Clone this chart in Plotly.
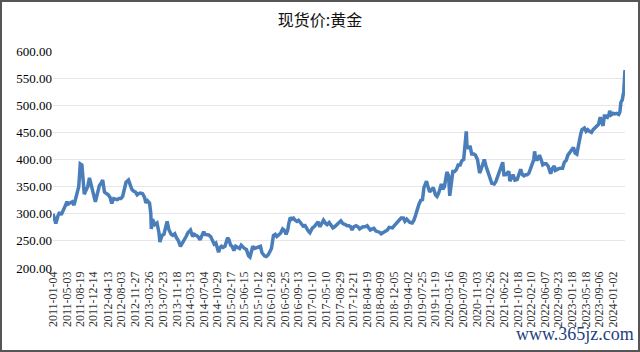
import plotly.graph_objects as go

# ---- data ----
dates = [
    "2011-01-04","2011-01-14","2011-01-28","2011-02-15","2011-03-01","2011-03-15","2011-04-01","2011-04-15",
    "2011-05-03","2011-05-13","2011-06-01","2011-06-15","2011-07-01","2011-07-15","2011-08-01","2011-08-10",
    "2011-08-19","2011-08-23","2011-09-06","2011-09-15","2011-09-26","2011-10-10","2011-10-25","2011-11-09",
    "2011-11-25","2011-12-14","2011-12-29",
    "2012-01-05","2012-01-16","2012-02-01","2012-02-15","2012-02-29","2012-03-15","2012-04-02","2012-04-16",
    "2012-05-02","2012-05-16","2012-06-01","2012-06-15","2012-07-02","2012-07-16","2012-08-01","2012-08-16",
    "2012-09-03","2012-09-14","2012-10-05","2012-10-19","2012-11-02","2012-11-16","2012-12-03","2012-12-17",
    "2012-12-28",
    "2013-01-15","2013-02-01","2013-02-18","2013-03-01","2013-03-15","2013-04-01","2013-04-12","2013-04-16",
    "2013-04-26","2013-05-15","2013-06-03","2013-06-20","2013-06-28","2013-07-15","2013-08-01","2013-08-15",
    "2013-08-28","2013-09-13","2013-10-01","2013-10-15","2013-11-01","2013-11-15","2013-12-02","2013-12-19",
    "2013-12-31",
    "2014-01-15","2014-02-05","2014-02-20","2014-03-03","2014-03-14","2014-04-01","2014-04-15","2014-05-02",
    "2014-05-16","2014-06-03","2014-06-20","2014-07-04","2014-07-15","2014-08-01","2014-08-15","2014-09-01",
    "2014-09-15","2014-10-01","2014-10-15","2014-11-03","2014-11-07","2014-11-20","2014-12-01","2014-12-15",
    "2014-12-31",
    "2015-01-15","2015-01-22","2015-02-03","2015-02-17","2015-03-02","2015-03-17","2015-04-01","2015-04-15",
    "2015-05-04","2015-05-18","2015-06-01","2015-06-15","2015-07-01","2015-07-20","2015-07-31","2015-08-14",
    "2015-08-24","2015-09-08","2015-09-22","2015-10-14","2015-10-28","2015-11-10","2015-11-25","2015-12-03",
    "2015-12-17","2015-12-31",
    "2016-01-15","2016-01-29","2016-02-15","2016-03-01","2016-03-15","2016-04-01","2016-04-15","2016-05-03",
    "2016-05-16","2016-06-01","2016-06-15","2016-06-24","2016-07-06","2016-07-20","2016-08-03","2016-08-17",
    "2016-09-01","2016-09-15","2016-10-10","2016-10-25","2016-11-09","2016-11-24","2016-12-07","2016-12-20",
    "2017-01-10","2017-01-25","2017-02-10","2017-02-27","2017-03-15","2017-03-31","2017-04-14","2017-05-02",
    "2017-05-15","2017-06-01","2017-06-15","2017-07-03","2017-07-17","2017-08-01","2017-08-15","2017-08-29",
    "2017-09-08","2017-09-25","2017-10-16","2017-10-30","2017-11-15","2017-11-30","2017-12-12","2017-12-27",
    "2018-01-15","2018-01-31","2018-02-14","2018-03-01","2018-03-15","2018-04-02","2018-04-19","2018-05-02",
    "2018-05-16","2018-06-01","2018-06-15","2018-07-02","2018-07-17","2018-08-01","2018-08-16","2018-09-03",
    "2018-09-14","2018-10-08","2018-10-22","2018-11-05","2018-11-20","2018-12-05","2018-12-19",
    "2019-01-04","2019-01-18","2019-02-01","2019-02-20","2019-03-05","2019-03-20","2019-04-02","2019-04-16",
    "2019-05-06","2019-05-20","2019-06-03","2019-06-21","2019-07-03","2019-07-18","2019-08-01","2019-08-13",
    "2019-08-27","2019-09-04","2019-09-16","2019-10-01","2019-10-15","2019-11-01","2019-11-19","2019-12-02",
    "2019-12-16","2019-12-31",
    "2020-01-08","2020-01-20","2020-02-03","2020-02-24","2020-03-09","2020-03-19","2020-03-31","2020-04-14",
    "2020-04-30","2020-05-15","2020-05-29","2020-06-15","2020-06-30","2020-07-15","2020-07-28","2020-08-06",
    "2020-08-12","2020-08-25","2020-09-07","2020-09-21","2020-10-09","2020-10-23","2020-11-09","2020-11-27",
    "2020-12-10","2020-12-22",
    "2021-01-06","2021-01-20","2021-02-03","2021-02-18","2021-03-01","2021-03-10","2021-03-31","2021-04-15",
    "2021-05-04","2021-05-18","2021-06-01","2021-06-11","2021-06-21","2021-07-06","2021-07-20","2021-08-02",
    "2021-08-10","2021-08-25","2021-09-06","2021-09-22","2021-10-11","2021-10-25","2021-11-10","2021-11-24",
    "2021-12-08","2021-12-22",
    "2022-01-05","2022-01-19","2022-02-07","2022-02-18","2022-03-01","2022-03-08","2022-03-18","2022-04-01",
    "2022-04-18","2022-05-05","2022-05-16","2022-06-01","2022-06-15","2022-07-01","2022-07-15","2022-07-22",
    "2022-08-08","2022-08-22","2022-09-01","2022-09-15","2022-09-28","2022-10-14","2022-10-31","2022-11-15",
    "2022-11-30","2022-12-15","2022-12-30",
    "2023-01-16","2023-01-31","2023-02-14","2023-03-01","2023-03-14","2023-03-24","2023-04-04","2023-04-14",
    "2023-05-04","2023-05-18","2023-06-01","2023-06-15","2023-07-03","2023-07-17","2023-08-01","2023-08-15",
    "2023-09-01","2023-09-15","2023-09-27","2023-10-09","2023-10-20","2023-11-01","2023-11-15","2023-11-30",
    "2023-12-04","2023-12-15","2023-12-29",
    "2024-01-02","2024-01-16","2024-01-31","2024-02-19","2024-02-29","2024-03-08","2024-03-20","2024-04-01",
    "2024-04-08","2024-04-12",
]
prices = [
    300,293,282,296,303,298,307,312,
    322,318,320,322,316,328,336,350,
    378,392,390,365,336,343,350,366,
    352,330,322,
    328,340,352,356,362,340,338,335,
    330,319,328,327,326,328,328,332,
    345,358,362,352,345,342,340,335,
    337,
    338,337,330,320,324,320,300,272,
    290,280,283,265,248,260,262,275,
    286,270,262,260,263,256,250,240,
    244,
    250,258,265,268,270,258,262,260,
    258,252,263,267,262,262,261,258,
    250,244,246,232,229,238,240,238,
    240,
    250,256,252,242,240,232,240,238,
    236,242,238,236,234,222,220,230,
    240,236,237,238,240,228,224,222,
    221,224,
    230,236,260,262,258,262,264,272,
    270,262,270,282,293,290,292,288,
    286,288,280,277,278,272,268,265,
    274,276,280,285,276,282,288,282,
    280,284,280,274,276,280,282,285,
    287,282,280,278,278,276,270,276,
    278,276,272,274,276,276,278,274,
    270,272,273,268,267,266,263,266,
    266,270,275,274,274,278,282,
    286,288,292,292,286,290,287,284,
    283,288,297,312,318,325,326,348,
    358,360,350,340,344,348,335,332,
    338,350,
    355,345,350,377,370,333,360,378,
    378,382,390,390,398,400,430,452,
    425,420,425,410,410,408,400,375,
    382,392,
    400,388,380,372,362,356,355,360,
    372,384,390,395,372,372,375,378,
    360,366,372,362,363,372,382,372,
    370,372,
    372,375,385,392,400,415,400,400,
    408,398,390,392,392,388,378,374,
    384,388,380,382,383,384,384,395,
    398,408,412,
    418,422,412,410,425,440,448,455,
    458,452,455,452,450,455,458,460,
    465,478,470,462,480,480,478,484,
    490,482,484,
    485,484,485,483,488,505,510,525,
    555,565,
]
tick_labels = [
    "2011-01-04","2011-05-03","2011-08-19","2011-12-14","2012-04-13","2012-08-03","2012-11-27",
    "2013-03-26","2013-07-23","2013-11-18","2014-03-13","2014-07-04","2014-10-29","2015-02-17",
    "2015-06-15","2015-10-12","2016-01-28","2016-05-25","2016-09-13","2017-01-10","2017-05-10",
    "2017-08-29","2017-12-21","2018-04-19","2018-08-09","2018-12-05","2019-04-02","2019-07-25",
    "2019-11-19","2020-03-16","2020-07-09","2020-11-03","2021-02-26","2021-06-22","2021-10-18",
    "2022-02-10","2022-06-07","2022-09-23","2023-01-18","2023-05-18","2023-09-06","2024-01-02",
]
y_ticks = [200, 250, 300, 350, 400, 450, 500, 550, 600]
title_text = "现货价:黄金"
watermark = "www.365jz.com"

W, H = 640, 352
ML, MR, MT, MB = 53, 15, 51, 84
PW, PH = W - ML - MR, H - MT - MB

fig = go.Figure()
fig.add_trace(go.Scatter(
    x=dates, y=prices, mode="lines",
    line=dict(color="#4a7ebb", width=3.5),
    hoverinfo="skip", showlegend=False,
))

serif = "Liberation Serif, Times New Roman, serif"
fig.update_layout(
    width=W, height=H,
    margin=dict(l=ML, r=MR, t=MT, b=MB),
    paper_bgcolor="white", plot_bgcolor="white",
    title=dict(text=title_text, x=0.5, xanchor="center", y=1 - 20 / H, yanchor="middle",
               font=dict(family="Noto Sans CJK SC", size=16, color="#111")),
    xaxis=dict(
        type="date", range=[dates[0], dates[-1]],
        tickmode="array", tickvals=tick_labels, ticktext=tick_labels,
        tickangle=-90, showgrid=False, zeroline=False, showline=False, ticks="",
        tickfont=dict(family=serif, size=12, color="#333"),
    ),
    yaxis=dict(
        range=[200, 600], tickmode="array", tickvals=y_ticks,
        ticktext=[f"{v:.2f}" for v in y_ticks],
        showgrid=True, gridcolor="#e6e6e6", gridwidth=1,
        zeroline=False, showline=False, ticks="",
        tickfont=dict(family=serif, size=13, color="#000"),
    ),
)

# outer frame around the whole picture
fig.add_shape(
    type="rect", xref="paper", yref="paper",
    x0=(1 - ML) / PW, x1=1 + (MR - 1) / PW,
    y0=-(MB - 1) / PH, y1=1 + (MT - 1) / PH,
    line=dict(color="#555555", width=2), fillcolor="rgba(0,0,0,0)", layer="above",
)

fig.add_annotation(
    text=watermark, xref="paper", yref="paper",
    x=1 + (MR - 4) / PW, y=-(MB - 18) / PH, xanchor="right", yanchor="middle",
    showarrow=False, font=dict(family=serif, size=18, color="#1f3f7f"),
)

fig.write_html("out.html")
